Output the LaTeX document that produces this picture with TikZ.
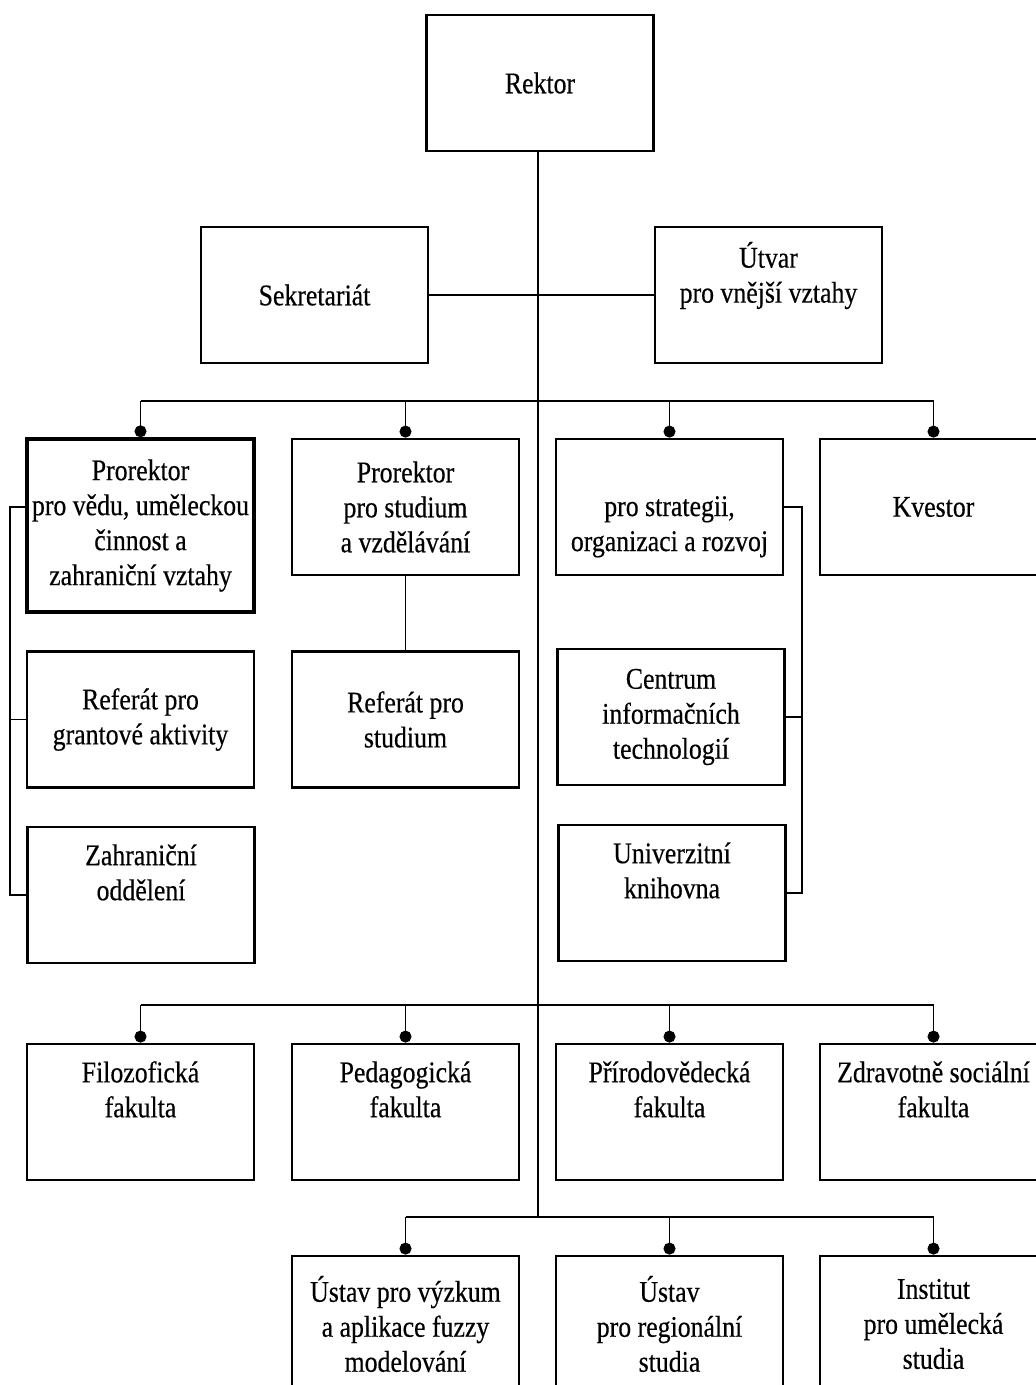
\documentclass[tikz,border=0pt]{standalone}
\usepackage{fontspec}
\setmainfont{Liberation Serif}[FakeStretch=0.86,FakeBold=0.4]
\usetikzlibrary{arrows.meta}
\tikzset{
	orgbox/.style={draw, line width=1.4pt, minimum width=113.5pt, minimum height=68pt,
		align=center, inner sep=0pt, font=\fontsize{15}{17.5}\selectfont},
	link/.style={line width=0.6pt},
	droplink/.style={link, -{Circle[length=6pt]}},
}
\begin{document}
\begin{tikzpicture}[x=0.5pt, y=-0.5pt]
			%%%%% START %%%%%
			\useasboundingbox (0,0) rectangle (1035,1385);
			
			\node[orgbox] (rektor) at (540,83) {Rektor};
			\node[orgbox] (sekretariat) at (314.5,295) {Sekretariát};
			\node[orgbox] (utvar) at (768.5,295) {Útvar\\pro vnější vztahy\\\strut};
			
			\node[orgbox, minimum height=86.5pt, line width=1.7pt] (prveda) at (140.5,525.5) {Prorektor\\pro vědu, uměleckou\\činnost a\\zahraniční vztahy};
			\node[orgbox] (prstudium) at (405.5,507) {Prorektor\\pro studium\\a vzdělávání};
			\node[orgbox] (prstrategie) at (669.5,507) {\strut\\pro strategii,\\organizaci a rozvoj};
			\node[orgbox] (kvestor) at (933.5,507) {Kvestor};
			
			\node[orgbox] (refgrant) at (140.5,719.5) {Referát pro\\grantové aktivity};
			\node[orgbox] (zahranicni) at (141,895) {Zahraniční\\oddělení\\\strut};
			\node[orgbox] (refstudium) at (405.5,719.5) {Referát pro\\studium};
			\node[orgbox] (cit) at (671,717) {Centrum\\informačních\\technologií};
			\node[orgbox] (knihovna) at (672,893) {Univerzitní\\knihovna\\\strut};
			
			\node[orgbox] (ff) at (140.5,1112) {Filozofická\\fakulta\\\strut};
			\node[orgbox] (pf) at (405.5,1112) {Pedagogická\\fakulta\\\strut};
			\node[orgbox] (prf) at (669.5,1112) {Přírodovědecká\\fakulta\\\strut};
			\node[orgbox] (zsf) at (933.5,1112) {Zdravotně sociální\\fakulta\\\strut};
			
			\node[orgbox] (fuzzy) at (405.5,1324) {Ústav pro výzkum\\a aplikace fuzzy\\modelování};
			\node[orgbox] (regio) at (669.5,1324) {Ústav\\pro regionální\\studia};
			\node[orgbox] (umeni) at (933.5,1324) {Institut\\pro umělecká\\studia};
			
			\coordinate (bus1) at (538,401);
			\coordinate (bus2) at (538,1005);
			\coordinate (bus3) at (538,1217);
			\coordinate (lb) at (10,507);
			\coordinate (rb) at (802,507);
			
			\draw[link] (rektor.south -| bus1) -- (bus3);
			\draw[link] (sekretariat.east) -- (utvar.west);
			
			\draw[link] (prveda.north |- bus1) -- (kvestor.north |- bus1);
			\draw[droplink] (prveda.north |- bus1) -- (prveda.north);
			\draw[droplink] (prstudium.north |- bus1) -- (prstudium.north);
			\draw[droplink] (prstrategie.north |- bus1) -- (prstrategie.north);
			\draw[droplink] (kvestor.north |- bus1) -- (kvestor.north);
			
			\draw[link] (prstudium.south) -- (refstudium.north);
			
			\draw[link] (prveda.west |- lb) -- (lb) |- (zahranicni.west);
			\draw[link] (refgrant.west) -- (refgrant.west -| lb);
			
			\draw[link] (prstrategie.east) -- (rb) |- (knihovna.east);
			\draw[link] (cit.east) -- (cit.east -| rb);
			
			\draw[link] (ff.north |- bus2) -- (zsf.north |- bus2);
			\draw[droplink] (ff.north |- bus2) -- (ff.north);
			\draw[droplink] (pf.north |- bus2) -- (pf.north);
			\draw[droplink] (prf.north |- bus2) -- (prf.north);
			\draw[droplink] (zsf.north |- bus2) -- (zsf.north);
			
			\draw[link] (fuzzy.north |- bus3) -- (umeni.north |- bus3);
			\draw[droplink] (fuzzy.north |- bus3) -- (fuzzy.north);
			\draw[droplink] (regio.north |- bus3) -- (regio.north);
			\draw[droplink] (umeni.north |- bus3) -- (umeni.north);
			
			%%%%% END %%%%%
\end{tikzpicture}
\end{document}
